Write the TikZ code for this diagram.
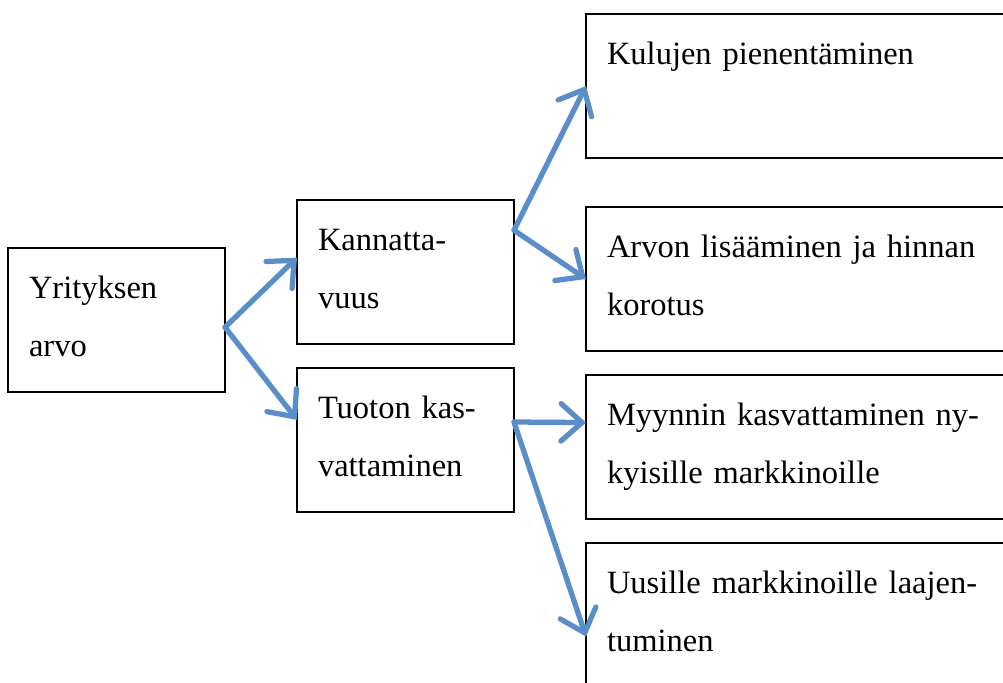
\documentclass[tikz,border=0pt]{standalone}
\usepackage{fontspec}
\setmainfont{Liberation Serif}
\usetikzlibrary{arrows.meta,calc}

\definecolor{arrowblue}{RGB}{91,142,201}

\tikzset{
	box/.style={draw=black, line width=0.8pt, rectangle, anchor=north west, outer sep=0pt,
		inner xsep=0.42cm, inner ysep=0pt, text height=1.0cm, text depth=1.88cm,
		align=left, font=\fontsize{18.5}{33}\selectfont},
	narrowbox/.style={box, text width=3.5cm},
	widebox/.style={box, text width=8.2cm},
	link/.style={draw=arrowblue, line width=3pt, line cap=round,
		-{Straight Barb[length=0.42cm, width=0.75cm, line cap=round]}}
}

\begin{document}
\begin{tikzpicture}

		\useasboundingbox (0,0) rectangle (20.06,-13.64);
		\clip (0,0) rectangle (20.06,-13.64);

			% left column
			\node[narrowbox] (yri) at (0.16,-4.96) {Yrityksen\\arvo};

			% middle column
			\node[narrowbox] (kan) at (5.94,-4.0) {Kannatta-\\vuus};
			\node[narrowbox] (tuo) at (5.94,-7.36) {Tuoton kas-\\vattaminen};

			% right column
			\node[widebox] (kul) at (11.72,-0.28) {Kulujen pienentäminen};
			\node[widebox] (arv) at (11.72,-4.14) {Arvon lisääminen ja hinnan\\korotus};
			\node[widebox] (myy) at (11.72,-7.5) {Myynnin kasvattaminen ny-\\kyisille markkinoille};
			\node[widebox] (uus) at (11.72,-10.86) {Uusille markkinoille laajen-\\tuminen};

			% arrows
			\draw[link] ($(yri.north east)!0.55!(yri.south east)$) -- ($(kan.north west)!0.4!(kan.south west)$);
			\draw[link] ($(yri.north east)!0.55!(yri.south east)$) -- ($(tuo.north west)!0.36!(tuo.south west)$);

			\draw[link] ($(kan.north east)!0.21!(kan.south east)$) -- (kul.west);
			\draw[link] ($(kan.north east)!0.21!(kan.south east)$) -- (arv.west);

			\draw[link] ($(tuo.north east)!0.375!(tuo.south east)$) -- ($(myy.north west)!0.33!(myy.south west)$);
			\draw[link] ($(tuo.north east)!0.375!(tuo.south east)$) -- ($(uus.north west)!0.65!(uus.south west)$);

	\end{tikzpicture}
\end{document}
